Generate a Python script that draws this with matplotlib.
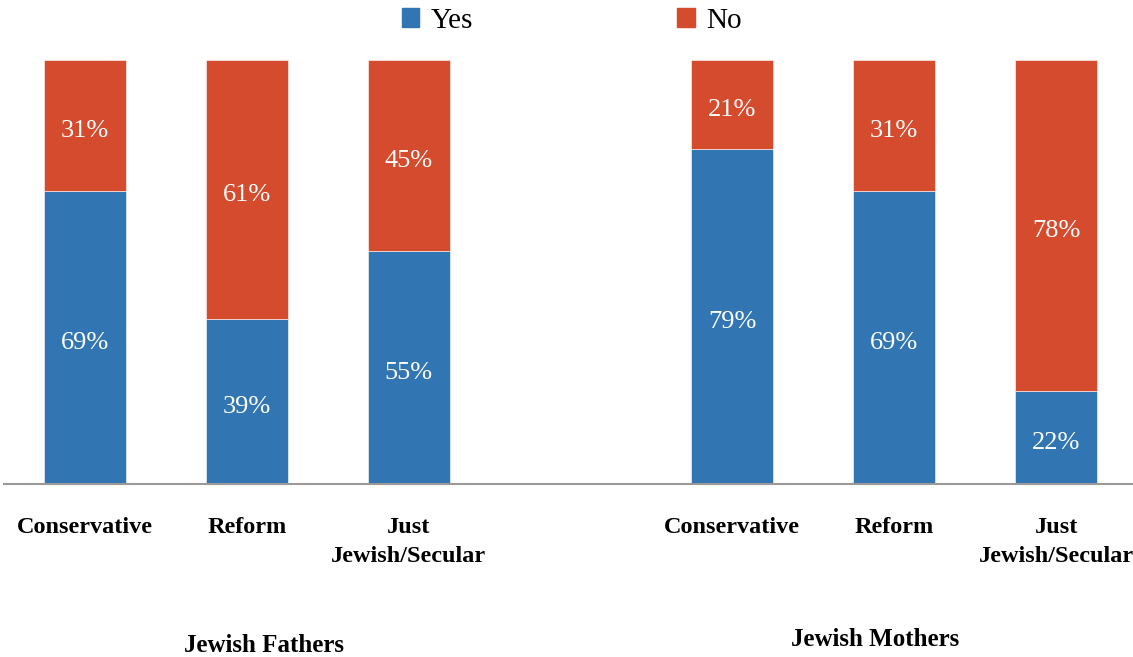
import numpy as np
import matplotlib.pyplot as plt
from matplotlib.patches import Patch
from matplotlib import transforms

plt.rcParams['font.family'] = ['Liberation Serif', 'DejaVu Serif']

categories = ["Conservative", "Reform", "Just\nJewish/Secular"]
groups = ["Jewish Fathers", "Jewish Mothers"]
fathers_yes = [69, 39, 55]
fathers_no = [31, 61, 45]
mothers_yes = [79, 69, 22]
mothers_no = [21, 31, 78]

blue = "#3175b2"
red = "#d54b2d"

yes = np.array(fathers_yes + mothers_yes) / 100.0
no = np.array(fathers_no + mothers_no) / 100.0
x = np.array([0, 1, 2, 4, 5, 6])

fig = plt.figure(figsize=(11.33, 6.57), dpi=100)
ax = fig.add_axes([4 / 1133, 173 / 657, 1133 / 1133, 424 / 657])

ax.bar(x, yes, width=0.506, color=blue, edgecolor="white", linewidth=0.4)
ax.bar(x, no, width=0.506, bottom=yes, color=red, edgecolor="white", linewidth=0.4)

# nudge value labels a little lower, as in the original
lbl_tr = transforms.offset_copy(ax.transData, fig=fig, y=-3, units="dots")
for xi, y, n in zip(x, yes, no):
    ax.text(xi, y / 2, f"{round(y * 100)}%", ha="center", va="center_baseline",
            color="white", fontsize=19, transform=lbl_tr)
    ax.text(xi, y + n / 2, f"{round(n * 100)}%", ha="center", va="center_baseline",
            color="white", fontsize=19, transform=lbl_tr)

ax.set_xlim(-0.5, 6.5)
ax.set_ylim(0, 1)
for s in ["top", "right", "left"]:
    ax.spines[s].set_visible(False)
ax.spines["bottom"].set_color("#999999")
ax.spines["bottom"].set_linewidth(1.5)
ax.set_yticks([])
ax.set_xticks(x)
ax.set_xticklabels(categories * 2, fontsize=17.5, fontweight="bold",
                   linespacing=1.5)
ax.tick_params(axis="x", length=0, pad=24)

fig.text(264 / 1133, 1 - 645 / 657, groups[0], ha="center", va="center",
         fontsize=18, fontweight="bold")
fig.text(875 / 1133, 1 - 640 / 657, groups[1], ha="center", va="center",
         fontsize=18, fontweight="bold")

handles = [Patch(color=blue, label="Yes"), Patch(color=red, label="No")]
fig.legend(handles=handles, loc="upper center", bbox_to_anchor=(572 / 1133, 1.028),
           ncol=2, frameon=False, fontsize=21, handlelength=0.6, handleheight=0.6,
           handletextpad=0.4, columnspacing=7.0)

fig.savefig("out.png", dpi=100)
